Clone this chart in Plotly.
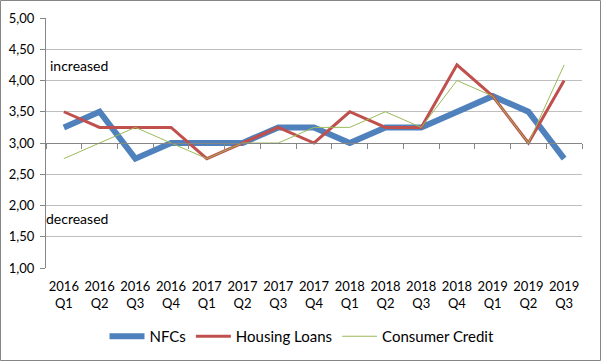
import plotly.graph_objects as go

categories = ["2016<br>Q1", "2016<br>Q2", "2016<br>Q3", "2016<br>Q4",
              "2017<br>Q1", "2017<br>Q2", "2017<br>Q3", "2017<br>Q4",
              "2018<br>Q1", "2018<br>Q2", "2018<br>Q3", "2018<br>Q4",
              "2019<br>Q1", "2019<br>Q2", "2019<br>Q3"]
nfcs = [3.25, 3.5, 2.75, 3.0, 3.0, 3.0, 3.25, 3.25, 3.0, 3.25, 3.25, 3.5, 3.75, 3.5, 2.75]
housing = [3.5, 3.25, 3.25, 3.25, 2.75, 3.0, 3.25, 3.0, 3.5, 3.25, 3.25, 4.25, 3.75, 3.0, 4.0]
consumer = [2.75, 3.0, 3.25, 3.0, 2.75, 3.0, 3.0, 3.25, 3.25, 3.5, 3.25, 4.0, 3.75, 3.0, 4.25]
y_ticks = [1.0, 1.5, 2.0, 2.5, 3.0, 3.5, 4.0, 4.5, 5.0]

FONT = "Lato"
W, H = 601, 361
ml, mr, mt, mb = 46, 19, 18, 93
pw, ph = W - ml - mr, H - mt - mb

fig = go.Figure()
fig.add_trace(go.Scatter(x=categories, y=nfcs, name="NFCs", mode="lines",
                         line=dict(color="#4F81BD", width=6)))
fig.add_trace(go.Scatter(x=categories, y=housing, name="Housing Loans", mode="lines",
                         line=dict(color="#C0504D", width=3)))
fig.add_trace(go.Scatter(x=categories, y=consumer, name="Consumer Credit", mode="lines",
                         line=dict(color="#9BBB59", width=1)))
# invisible trace to carry the crossing axis
fig.add_trace(go.Scatter(x=categories, y=[None] * len(categories), xaxis="x2",
                         showlegend=False, hoverinfo="skip", mode="lines"))

fig.update_layout(
    width=W, height=H,
    margin=dict(l=ml, r=mr, t=mt, b=mb, autoexpand=False),
    paper_bgcolor="white", plot_bgcolor="white",
    separators=",.",
    font=dict(family=FONT, size=13, color="#000000"),
    showlegend=True,
    legend=dict(orientation="h", x=(302 - ml) / pw, xanchor="center",
                y=(268 - 320) / ph, yanchor="top",
                font=dict(size=15, family=FONT), itemwidth=35,
                traceorder="normal"),
    xaxis=dict(type="category", categoryorder="array", categoryarray=categories,
               range=[-0.5, len(categories) - 0.5], showgrid=False, showline=False,
               ticks="", zeroline=False, automargin=False, ticklabelstandoff=9,
               tickfont=dict(size=13, family=FONT)),
    xaxis2=dict(type="category", categoryorder="array", categoryarray=categories,
                overlaying="x", anchor="free", position=0.5,
                range=[-0.5, len(categories) - 0.5], showgrid=False,
                showline=True, linecolor="#868686", linewidth=1, automargin=False,
                ticks="outside", tickson="boundaries", ticklen=5, tickcolor="#868686",
                showticklabels=False),
    yaxis=dict(range=[1, 5], tickvals=y_ticks, tickformat=".2f",
               showgrid=True, gridcolor="#BFBFBF", gridwidth=1,
               showline=True, linecolor="#868686", linewidth=1,
               ticks="outside", ticklen=5, tickcolor="#868686", automargin=False,
               ticklabelstandoff=3,
               zeroline=False, tickfont=dict(size=13, family=FONT)),
    annotations=[
        dict(text="increased", xref="paper", yref="paper", x=(48 - ml) / pw, y=(268 - 66) / ph,
             xanchor="left", yanchor="middle", showarrow=False, font=dict(size=14, family=FONT)),
        dict(text="decreased", xref="paper", yref="paper", x=(44 - ml) / pw, y=(268 - 218) / ph,
             xanchor="left", yanchor="middle", showarrow=False, font=dict(size=14, family=FONT)),
    ],
    shapes=[
        dict(type="rect", xref="paper", yref="paper",
             x0=(0.5 - ml) / pw, x1=(W - 0.5 - ml) / pw,
             y0=(mt + ph - (H - 0.5)) / ph, y1=(mt + ph - 0.5) / ph,
             line=dict(color="#868686", width=1), layer="below"),
    ],
)

fig.write_html("out.html", config={"displayModeBar": False},
               post_script="document.body.style.margin='0';document.body.style.overflow='hidden';")
